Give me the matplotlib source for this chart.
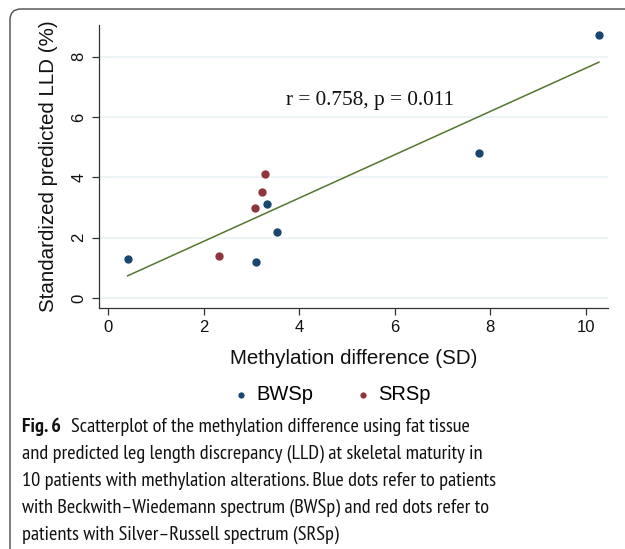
import numpy as np
import matplotlib
matplotlib.use("Agg")
import matplotlib.pyplot as plt
from matplotlib import font_manager
from matplotlib.patches import FancyBboxPatch
from matplotlib.transforms import IdentityTransform

# ---- data ----
bws_x = [0.41, 3.10, 3.32, 3.53, 7.77, 10.28]
bws_y = [1.30, 1.19, 3.11, 2.20, 4.81, 8.73]
srs_x = [2.32, 3.08, 3.22, 3.28]
srs_y = [1.40, 3.00, 3.50, 4.11]
x_ticks = [0, 2, 4, 6, 8, 10]
y_ticks = [0, 2, 4, 6, 8]
series_names = ["BWSp", "SRSp"]
stat_text = "r = 0.758, p = 0.011"
x_label = "Methylation difference (SD)"
y_label = "Standardized predicted LLD (%)"
caption_bold = "Fig. 6"
caption_lines = [
    "Scatterplot of the methylation difference using fat tissue",
    "and predicted leg length discrepancy (LLD) at skeletal maturity in",
    "10 patients with methylation alterations. Blue dots refer to patients",
    "with Beckwith\u2013Wiedemann spectrum (BWSp) and red dots refer to",
    "patients with Silver\u2013Russell spectrum (SRSp)",
]

BLUE = "#1a476f"
RED = "#90353b"
GREEN = "#55752f"
GRID = "#eaf2f3"

names = {f.name for f in font_manager.fontManager.ttflist}
if "PT Sans Narrow" in names:
    cap_font, cap_size = "PT Sans Narrow", 14.7
else:
    cap_font, cap_size = "Lato", 11.7

W, H = 625, 549
fig = plt.figure(figsize=(W / 100, H / 100), dpi=100)
fig.patch.set_facecolor("white")

ax = fig.add_axes([99 / W, 1 - 308 / H, (608 - 99) / W, (308 - 25) / H])
ax.set_xlim(-0.19, 10.47)
ax.set_ylim(-0.33, 9.05)

for yt in y_ticks:
    ax.axhline(yt, color=GRID, lw=1.2, zorder=0)

all_x = np.array(bws_x + srs_x)
all_y = np.array(bws_y + srs_y)
b, a = np.polyfit(all_x, all_y, 1)
xl = np.array([all_x.min(), all_x.max()])
ax.plot(xl, a + b * xl, color=GREEN, lw=1.1, zorder=2)

h1 = ax.scatter(bws_x, bws_y, s=36, color=BLUE, zorder=3, linewidths=0, label=series_names[0])
h2 = ax.scatter(srs_x, srs_y, s=36, color=RED, zorder=3, linewidths=0, label=series_names[1])

ax.text(5.49, 6.55, stat_text, family="Liberation Serif", fontsize=15.3,
        ha="center", va="center", color="#111111")

for s in ["top", "right"]:
    ax.spines[s].set_visible(False)
for s in ["left", "bottom"]:
    ax.spines[s].set_color("#333333")
    ax.spines[s].set_linewidth(0.9)

ax.set_xticks(x_ticks)
ax.set_yticks(y_ticks)
ax.tick_params(axis="both", length=5, width=0.9, color="#333333",
               labelsize=12, labelcolor="#111111", pad=4)
for lab in ax.get_xticklabels() + ax.get_yticklabels():
    lab.set_family("Liberation Sans")
for lab in ax.get_yticklabels():
    lab.set_rotation(90)
    lab.set_va("center")

ax.set_xlabel(x_label, family="Liberation Sans", fontsize=14.8, labelpad=9.5, color="#111111")
ax.set_ylabel(y_label, family="Liberation Sans", fontsize=14.8, labelpad=9.5, color="#111111")

leg = fig.legend(handles=[h1, h2], labels=series_names, loc="center",
                 bbox_to_anchor=(331 / W, 1 - 395 / H), ncol=2, frameon=False,
                 prop={"family": "Liberation Sans", "size": 14.5},
                 markerscale=0.75, handletextpad=0.25, columnspacing=2.0,
                 handlelength=1.0)

# border
box = FancyBboxPatch((10, -60), 800, (H - 9) + 60,
                     boxstyle="round,pad=0,rounding_size=11",
                     transform=IdentityTransform(), fill=False,
                     edgecolor="#4a4a4a", lw=1.0)
fig.patches.append(box)

# caption
line_y = [427, 454, 481, 508, 535]
t0 = fig.text(22 / W, 1 - (line_y[0] + 5) / H, caption_bold, family=cap_font,
              fontsize=cap_size, fontweight="bold", va="baseline", ha="left", color="#111111")
fig.add_artist(plt.Annotation(caption_lines[0], xy=(1, 0), xycoords=t0,
                              xytext=(7, 0), textcoords="offset points",
                              family=cap_font, fontsize=cap_size, va="bottom",
                              ha="left", color="#111111"))
for ly, txt in zip(line_y[1:], caption_lines[1:]):
    fig.text(22 / W, 1 - (ly + 5) / H, txt, family=cap_font, fontsize=cap_size,
             va="baseline", ha="left", color="#111111")

fig.savefig("out.png", dpi=100, facecolor="white")
